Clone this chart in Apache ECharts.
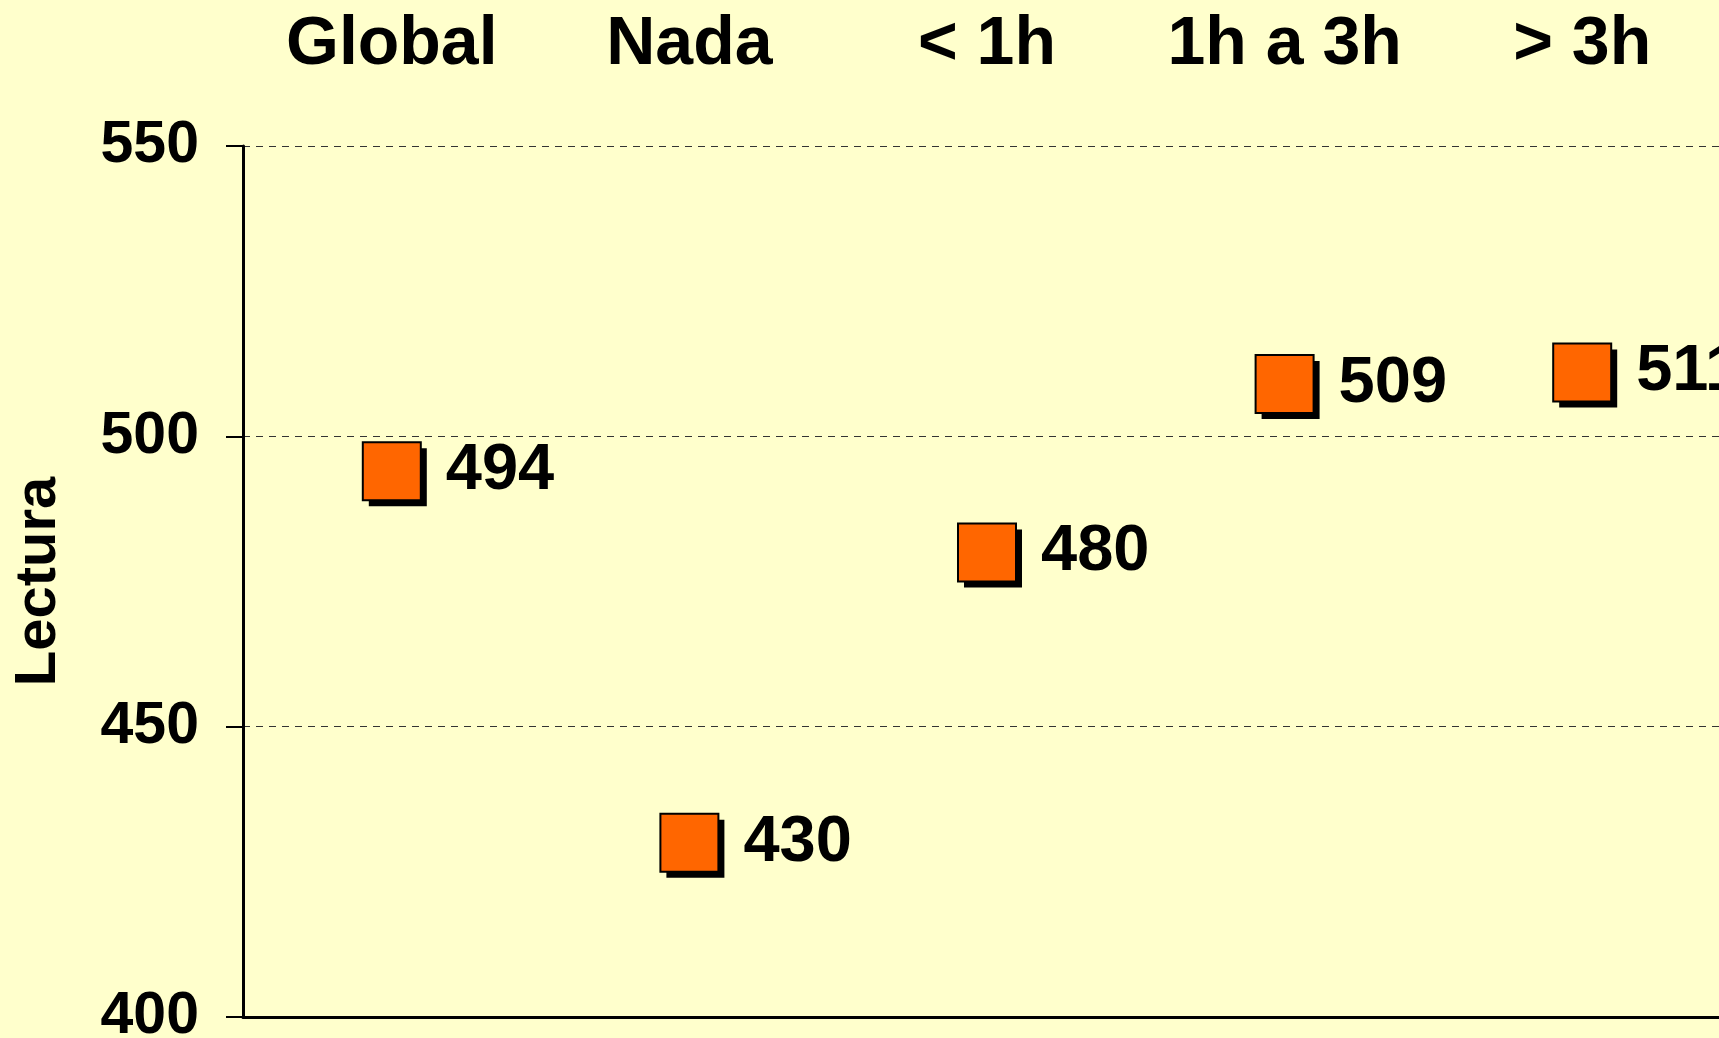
<!DOCTYPE html>
<html>
<head>
<meta charset="utf-8">
<title>Lectura</title>
<script src="https://cdn.jsdelivr.net/npm/echarts@6/dist/echarts.min.js"></script>
<style>
    html, body { margin: 0; padding: 0; background: #FFFFCC; }
    #chart { width: 1719px; height: 1038px; }
</style>
</head>
<body>
<div id="chart"></div>
<script>
    // datos
    var categories = ['Global', 'Nada', '< 1h', '1h a 3h', '> 3h'];
    var lectura = [494, 430, 480, 509, 511];
    var yTicks = [400, 450, 500, 550];

    var chart = echarts.init(document.getElementById('chart'));
    var font = '"Liberation Sans", Arial, sans-serif';

    var option = {
        backgroundColor: '#FFFFCC',
        animation: false,
        grid: {left: 243, top: 146, bottom: 21, width: 1488, outerBoundsMode: 'none', containLabel: false},
        xAxis: [
            {
                type: 'category',
                position: 'top',
                data: categories,
                axisLine: {show: false},
                axisTick: {show: false},
                axisLabel: {
                    interval: 0,
                    hideOverlap: false,
                    margin: 67,
                    color: '#000',
                    fontSize: 68,
                    fontWeight: 'bold',
                    fontFamily: font
                }
            },
            {
                type: 'category',
                position: 'bottom',
                data: categories,
                axisLine: {show: true, lineStyle: {color: '#000', width: 3}},
                axisTick: {show: false},
                axisLabel: {show: false}
            }
        ],
        yAxis: {
            type: 'value',
            min: yTicks[0],
            max: yTicks[yTicks.length - 1],
            interval: 50,
            name: 'Lectura',
            nameLocation: 'middle',
            nameGap: 175,
            nameTextStyle: {
                color: '#000',
                fontSize: 58,
                fontWeight: 'bold',
                fontFamily: font
            },
            axisLine: {show: true, lineStyle: {color: '#000', width: 3}},
            axisTick: {show: true, length: 17, lineStyle: {color: '#000', width: 2}},
            axisLabel: {
                margin: 44,
                color: '#000',
                fontSize: 59,
                fontWeight: 'bold',
                fontFamily: font
            },
            splitLine: {
                show: true,
                lineStyle: {color: '#333', width: 1, type: [7, 6]}
            }
        },
        series: [
            {
                // sombra negra
                type: 'scatter',
                xAxisIndex: 0,
                data: lectura,
                symbol: 'rect',
                symbolSize: 58,
                symbolOffset: [6, 6],
                silent: true,
                itemStyle: {color: '#000', opacity: 1}
            },
            {
                type: 'scatter',
                xAxisIndex: 0,
                data: lectura,
                symbol: 'rect',
                symbolSize: 58,
                itemStyle: {
                    color: '#FF6600',
                    borderColor: '#000',
                    borderWidth: 2,
                    opacity: 1
                },
                label: {
                    show: true,
                    position: 'right',
                    distance: 24,
                    color: '#000',
                    fontSize: 65,
                    fontWeight: 'bold',
                    fontFamily: font
                }
            }
        ]
    };

    chart.setOption(option);
</script>
</body>
</html>
